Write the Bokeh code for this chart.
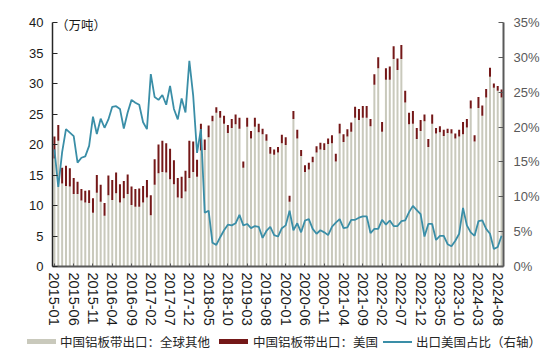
from bokeh.plotting import figure
from bokeh.layouts import column
from bokeh.models import (ColumnDataSource, Range1d, LinearAxis, FixedTicker,
                          PrintfTickFormatter, Label, Div)
from bokeh.embed import file_html
from bokeh.resources import INLINE

# ---- data (万吨 / %) ----
other = [17.7, 20.6, 13.6, 13.2, 13.1, 11.9, 11.9, 10.8, 10.5, 10.4,
         8.8, 12.1, 10.6, 8.3, 11.7, 10.9, 12.0, 10.5, 11.2, 11.9,
         10.1, 9.8, 9.8, 10.5, 11.3, 8.4, 13.4, 15.3, 15.5, 15.4,
         14.3, 13.5, 11.3, 11.2, 12.3, 14.5, 15.5, 14.7, 19.0, 19.1,
         21.2, 23.8, 25.2, 24.4, 23.4, 21.9, 22.7, 23.3, 22.6, 16.2,
         22.9, 21.0, 22.9, 22.0, 21.7, 20.6, 18.5, 18.3, 18.7, 20.2,
         19.9, 10.6, 24.2, 21.0, 18.1, 15.5, 15.9, 17.1, 18.7, 19.2,
         19.1, 20.1, 20.2, 17.2, 21.8, 20.4, 21.3, 22.1, 24.4, 24.0,
         24.4, 24.4, 23.0, 29.8, 32.5, 22.1, 30.6, 30.6, 34.0, 32.2,
         34.0, 26.9, 23.3, 23.4, 20.9, 22.2, 23.8, 19.6, 23.4, 21.8,
         22.0, 21.4, 21.9, 21.8, 21.0, 21.3, 21.7, 22.8, 25.9, 20.5,
         26.0, 24.7, 27.7, 31.1, 29.3, 28.8, 27.7]

usa = [3.6, 2.6, 2.6, 3.3, 3.0, 2.6, 2.0, 1.9, 1.9, 2.1,
       2.4, 2.9, 2.8, 2.1, 3.2, 3.3, 3.4, 3.0, 2.8, 3.2,
       3.0, 2.9, 3.0, 2.7, 2.9, 3.3, 4.2, 4.7, 5.1, 4.8,
       5.0, 3.9, 3.2, 3.5, 3.4, 6.1, 5.0, 2.8, 4.4, 1.7,
       1.9, 0.9, 0.9, 1.1, 1.3, 1.3, 1.5, 1.6, 1.8, 1.0,
       1.5, 1.2, 1.5, 1.4, 0.9, 1.1, 1.1, 0.9, 0.9, 1.4,
       1.3, 1.0, 1.3, 1.4, 1.0, 1.1, 1.1, 0.9, 1.0, 1.1,
       1.1, 0.9, 1.3, 1.3, 1.6, 1.3, 1.2, 1.5, 1.8, 1.8,
       1.9, 1.9, 1.2, 1.7, 1.8, 1.6, 1.9, 2.2, 2.1, 1.9,
       2.3, 1.9, 1.9, 2.1, 1.8, 1.8, 1.1, 1.3, 1.5, 0.9,
       1.0, 1.0, 0.7, 0.7, 0.8, 1.1, 2.0, 1.4, 1.3, 1.0,
       1.8, 1.7, 1.4, 1.5, 0.7, 0.8, 1.3]

share = [16.8, 11.4, 16.4, 19.7, 19.2, 18.7, 14.9, 15.6, 15.8, 17.3,
         21.5, 19.0, 21.2, 19.9, 21.1, 22.9, 23.0, 22.6, 19.8, 22.1,
         23.9, 23.5, 23.2, 20.7, 19.7, 27.6, 24.3, 23.9, 24.6, 23.2,
         25.9, 22.6, 21.1, 24.1, 22.1, 29.5, 24.5, 16.3, 19.7, 7.7,
         8.0, 3.4, 3.1, 4.2, 5.2, 6.0, 5.9, 6.2, 7.4, 5.9,
         6.1, 5.5, 5.8, 5.7, 4.1, 5.1, 5.7, 4.5, 4.3, 5.5,
         5.9, 8.0, 5.2, 6.2, 4.9, 6.6, 6.8, 5.4, 4.7, 5.2,
         4.9, 4.5, 5.7, 6.3, 6.8, 5.5, 5.6, 6.7, 6.7, 7.0,
         7.2, 7.2, 4.8, 5.4, 5.4, 6.7, 6.0, 6.6, 5.8, 5.8,
         6.5, 6.6, 7.8, 8.7, 8.1, 7.5, 4.3, 6.1, 6.1, 3.8,
         4.4, 4.4, 3.2, 2.9, 3.7, 4.7, 8.4, 5.9, 4.9, 4.4,
         6.5, 6.6, 5.4, 4.7, 2.5, 2.8, 4.4]

tick_labels = ["2015-01", "2015-06", "2015-11", "2016-04", "2016-09", "2017-02",
               "2017-07", "2017-12", "2018-05", "2018-10", "2019-03", "2019-08",
               "2020-01", "2020-06", "2020-11", "2021-04", "2021-09", "2022-02",
               "2022-07", "2022-12", "2023-05", "2023-10", "2024-03", "2024-08"]
tick_step = 5

left_ticks = [0, 5, 10, 15, 20, 25, 30, 35, 40]
right_ticks = [0, 5, 10, 15, 20, 25, 30, 35]
left_max = 40
right_max = 35

series_names = ["中国铝板带出口：全球其他", "中国铝板带出口：美国", "出口美国占比（右轴）"]
unit_text = "（万吨）"

# ---- build ----
xs = list(range(len(other)))
src = ColumnDataSource(dict(x=xs, other=other, usa=usa, share=share))

GREY = "#C9C9BC"
RED = "#741818"
TEAL = "#3A8EA7"
NUM_FONT = "Liberation Sans"
CJK_FONT = "Noto Sans CJK SC"

MAIN_H, LEG_H = 332, 24
top_px, frame_bottom_px, zero_to_max_px = 6, 266, 244
head = left_max * (frame_bottom_px - top_px) / zero_to_max_px

p = figure(width=550, height=MAIN_H, output_backend="svg", toolbar_location=None,
           x_range=Range1d(-0.5, len(other) - 0.5), y_range=Range1d(0, head),
           min_border_left=52, min_border_right=47, min_border_top=top_px,
           min_border_bottom=MAIN_H - frame_bottom_px)
p.outline_line_color = None
p.xgrid.visible = False
p.ygrid.visible = False

bars = p.vbar_stack(["other", "usa"], x="x", width=0.52, color=[GREY, RED],
                    line_color=None, source=src)

p.extra_y_ranges = {"right": Range1d(0, head * right_max / left_max)}
ln = p.line("x", "share", source=src, y_range_name="right", color=TEAL, line_width=1.8)

# x axis
xa = p.xaxis[0]
xt = [i * tick_step for i in range(len(tick_labels))]
xa.ticker = FixedTicker(ticks=xt)
xa.major_label_overrides = {t: lab for t, lab in zip(xt, tick_labels)}
xa.major_label_orientation = "vertical"
xa.major_label_text_font = NUM_FONT
xa.major_label_text_font_size = "14.5px"
xa.major_label_text_color = "#1a1a1a"
xa.major_label_standoff = 6
xa.major_tick_in = 3
xa.major_tick_out = 0
xa.minor_tick_line_color = None
xa.axis_line_color = "#595959"
xa.axis_line_width = 2
xa.major_tick_line_color = "#595959"

# left axis
ya = p.yaxis[0]
ya.ticker = FixedTicker(ticks=left_ticks)
ya.bounds = (0, left_max)
ya.major_label_text_font = NUM_FONT
ya.major_label_text_font_size = "13px"
ya.major_label_text_color = "#1a1a1a"
ya.major_label_standoff = 9
ya.major_tick_in = 5
ya.major_tick_out = 0
ya.minor_tick_line_color = None
ya.axis_line_color = "#262626"
ya.axis_line_width = 1.5
ya.major_tick_line_color = "#262626"

# right axis
ra = LinearAxis(y_range_name="right", ticker=FixedTicker(ticks=right_ticks),
                formatter=PrintfTickFormatter(format="%d%%"), bounds=(0, right_max))
ra.major_label_text_font = NUM_FONT
ra.major_label_text_font_size = "13px"
ra.major_label_text_color = "#595959"
ra.major_label_standoff = 10
ra.major_tick_in = 5
ra.major_tick_out = 0
ra.minor_tick_line_color = None
ra.axis_line_color = "#595959"
ra.axis_line_width = 2
ra.major_tick_line_color = "#595959"
p.add_layout(ra, "right")

# unit label
p.add_layout(Label(x=0.4, y=39.7, text=unit_text, text_font=CJK_FONT,
                   text_font_size="12.5px", text_color="#1a1a1a",
                   text_baseline="middle", text_align="left"))

# ---- legend strip (HTML, under the chart) ----
def swatch(left, color, h, top):
    return (f'<span style="position:absolute;left:{left}px;top:{top}px;width:29px;'
            f'height:{h}px;background:{color};"></span>')

def label(left, txt):
    return (f'<span style="position:absolute;left:{left}px;top:0px;line-height:19px;'
            f'white-space:nowrap;">{txt}</span>')

legend_html = (
    f'<div style="position:relative;width:550px;height:{LEG_H}px;'
    f'font-family:\'{CJK_FONT}\';font-size:12.5px;color:#262626;">'
    + swatch(27, GREY, 5, 7) + label(60, series_names[0])
    + swatch(219, RED, 5, 7) + label(253, series_names[1])
    + swatch(383, TEAL, 2, 8.5) + label(416, series_names[2])
    + '</div>'
)
leg = Div(text=legend_html, width=550, height=LEG_H, margin=(0, 0, 0, 0))

layout = column(p, leg, spacing=0)
open("out.html", "w").write(file_html(layout, INLINE))
